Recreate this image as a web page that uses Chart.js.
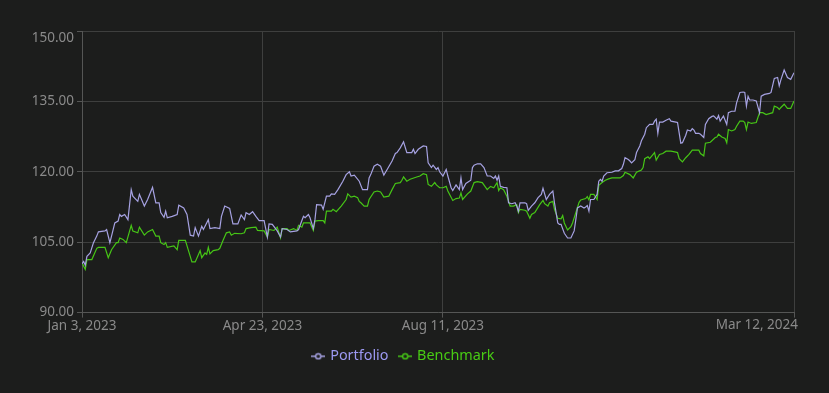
<!DOCTYPE html>
<html>
<head>
<meta charset="utf-8">
<script src="https://cdn.jsdelivr.net/npm/chart.js@4.4.1/dist/chart.umd.min.js"></script>
<style>
  html, body { margin: 0; padding: 0; background: #1c1d1c; }
  #wrap { width: 829px; height: 393px; position: relative; }
</style>
</head>
<body>
<div id="wrap"><canvas id="chart"></canvas></div>
<script>
// Start date of the series; x values are day offsets from it
const START_DATE = Date.UTC(2023, 0, 3);
const MONTHS = ['Jan', 'Feb', 'Mar', 'Apr', 'May', 'Jun', 'Jul', 'Aug', 'Sep', 'Oct', 'Nov', 'Dec'];

// Axis ticks
const xTickDays = [0, 110, 220, 434];
const yTickValues = [90, 105, 120, 135, 150];

// Portfolio series (day offset, value)
const portfolioDays = [
  0, 1, 2, 3, 5, 7, 9, 10, 14, 15,
  17, 18, 20, 22, 23, 24, 26, 28, 30, 31,
  34, 35, 38, 40, 43, 45, 47, 48, 50, 51,
  52, 55, 58, 59, 62, 64, 66, 68, 69, 71,
  73, 74, 77, 78, 81, 84, 85, 87, 90, 92,
  95, 97, 99, 100, 102, 104, 106, 108, 111, 113,
  114, 116, 119, 121, 122, 125, 127, 131, 132, 135,
  136, 138, 139, 141, 142, 143, 146, 147, 149, 151,
  152, 154, 156, 159, 161, 163, 164, 166, 169, 171,
  174, 175, 176, 178, 180, 182, 184, 186, 189, 191,
  192, 194, 196, 198, 201, 202, 203, 205, 208, 210,
  211, 213, 214, 216, 217, 218, 220, 222, 223, 225,
  226, 228, 230, 231, 232, 234, 237, 238, 239, 241,
  243, 245, 247, 249, 251, 252, 253, 254, 255, 257,
  259, 260, 262, 264, 265, 266, 267, 270, 271, 272,
  274, 276, 278, 280, 281, 282, 283, 285, 287, 288,
  290, 291, 292, 294, 296, 298, 300, 301, 302, 304,
  306, 307, 308, 309, 310, 312, 314, 315, 316, 317,
  318, 320, 323, 325, 327, 329, 330, 331, 333, 334,
  335, 337, 338, 340, 341, 343, 344, 346, 348, 349,
  350, 351, 352, 354, 356, 358, 359, 362, 363, 364,
  365, 366, 368, 369, 371, 372, 373, 374, 376, 377,
  379, 380, 382, 384, 385, 387, 388, 389, 391, 392,
  393, 394, 396, 398, 399, 401, 403, 404, 405, 406,
  407, 409, 411, 413, 414, 416, 419, 420, 422, 424,
  425, 426, 428, 430, 432, 434
];
const portfolioValues = [
  100.4, 100.9, 100.1, 102.0, 102.7, 104.9, 106.3, 107.2, 107.4, 107.7,
  104.9, 106.3, 109.1, 109.5, 110.9, 110.5, 110.9, 109.8, 116.2, 114.8,
  113.7, 115.2, 112.7, 114.1, 116.7, 113.4, 113.4, 111.3, 110.3, 111.6,
  110.2, 110.5, 110.9, 112.9, 112.3, 110.9, 106.5, 106.3, 108.1, 106.3,
  108.4, 107.7, 109.8, 107.9, 108.1, 107.9, 110.5, 112.7, 112.2, 108.9,
  108.9, 110.8, 109.8, 111.3, 110.9, 111.5, 110.5, 109.6, 109.6, 106.1,
  108.9, 108.8, 107.4, 106.1, 107.9, 107.7, 107.2, 107.4, 107.7, 110.5,
  110.2, 110.9, 110.2, 107.9, 109.8, 113.0, 112.9, 112.0, 114.8, 114.8,
  115.3, 115.2, 116.2, 118.0, 119.4, 120.0, 119.1, 119.3, 118.0, 116.2,
  116.2, 118.7, 119.4, 121.2, 121.6, 121.2, 119.3, 120.5, 122.3, 123.9,
  124.1, 125.1, 126.4, 124.1, 124.1, 124.8, 123.9, 124.8, 125.5, 125.4,
  121.9, 120.9, 121.4, 120.5, 120.9, 120.0, 119.1, 120.5, 119.1, 116.6,
  116.0, 117.2, 116.2, 118.7, 116.2, 117.5, 118.2, 120.9, 121.4, 121.7,
  121.7, 120.9, 119.1, 119.1, 118.6, 119.1, 118.2, 119.1, 116.9, 116.7,
  116.6, 113.4, 113.2, 113.4, 112.7, 111.6, 113.4, 113.4, 113.2, 111.8,
  112.7, 113.4, 114.5, 115.2, 116.5, 115.3, 114.1, 115.2, 115.9, 113.4,
  109.1, 108.8, 108.8, 106.9, 105.9, 105.9, 107.4, 109.8, 112.3, 112.7,
  112.3, 112.5, 112.8, 111.6, 114.1, 114.1, 115.2, 118.0, 118.4, 118.0,
  119.1, 119.8, 119.9, 120.2, 120.2, 120.7, 121.6, 123.0, 122.6, 122.3,
  121.9, 122.6, 124.1, 125.5, 126.6, 128.0, 129.4, 130.1, 130.1, 130.8,
  131.2, 128.2, 130.6, 130.6, 131.0, 131.3, 130.8, 130.6, 130.5, 128.3,
  126.1, 126.2, 127.8, 128.9, 128.7, 129.2, 128.9, 128.2, 128.2, 128.0,
  127.3, 130.1, 131.3, 131.8, 131.9, 131.2, 132.0, 130.8, 131.9, 131.0,
  130.1, 132.6, 132.9, 132.9, 134.7, 136.9, 137.0, 136.9, 134.0, 136.1,
  135.3, 135.3, 135.1, 132.6, 136.1, 136.5, 136.7, 136.9, 139.9, 140.1,
  138.3, 139.6, 141.7, 140.1, 139.7, 141.1
];

// Benchmark series (day offset, value)
const benchmarkDays = [
  0, 2, 3, 6, 9, 10, 14, 16, 18, 21,
  22, 23, 25, 27, 30, 31, 34, 35, 38, 40,
  43, 45, 47, 48, 50, 51, 52, 56, 58, 59,
  63, 65, 67, 69, 71, 72, 73, 75, 76, 77,
  78, 80, 83, 84, 86, 88, 90, 91, 93, 97,
  99, 100, 103, 106, 107, 111, 113, 114, 117, 119,
  121, 122, 125, 126, 129, 131, 132, 134, 135, 139,
  141, 142, 144, 147, 148, 149, 152, 153, 155, 158,
  161, 162, 164, 166, 168, 169, 170, 172, 174, 175,
  178, 180, 182, 184, 187, 189, 191, 194, 195, 196,
  198, 200, 204, 206, 208, 210, 211, 213, 215, 216,
  218, 220, 222, 223, 226, 228, 230, 231, 232, 235,
  237, 239, 241, 244, 247, 249, 251, 253, 254, 255,
  257, 259, 261, 263, 265, 266, 267, 270, 271, 273,
  274, 276, 279, 281, 282, 284, 285, 287, 288, 290,
  292, 293, 294, 296, 298, 299, 301, 303, 304, 307,
  308, 309, 310, 312, 314, 315, 317, 319, 321, 323,
  325, 328, 330, 331, 334, 336, 338, 341, 342, 343,
  345, 346, 349, 350, 352, 354, 356, 359, 362, 363,
  364, 366, 368, 370, 372, 376, 377, 379, 380, 383,
  386, 387, 388, 390, 392, 393, 394, 396, 398, 399,
  401, 403, 404, 405, 406, 408, 411, 413, 415, 417,
  419, 421, 422, 424, 425, 426, 428, 430, 432, 434
];
const benchmarkValues = [
  100.6, 99.2, 101.3, 101.3, 103.7, 103.9, 103.9, 101.7, 103.4, 104.9,
  104.9, 105.9, 105.6, 104.9, 108.6, 107.4, 107.0, 108.2, 106.5, 107.2,
  107.7, 106.3, 106.3, 104.9, 104.5, 104.9, 103.9, 104.2, 103.4, 105.4,
  105.4, 103.1, 100.8, 100.8, 102.4, 103.2, 101.7, 102.7, 102.4, 103.9,
  102.5, 103.2, 103.4, 103.7, 105.4, 107.0, 107.2, 106.5, 106.9, 106.8,
  107.0, 107.9, 108.1, 108.2, 107.5, 107.4, 106.1, 107.7, 107.5, 108.2,
  105.9, 107.9, 107.9, 107.5, 107.9, 107.5, 108.6, 108.2, 109.1, 109.1,
  107.5, 109.5, 109.6, 109.6, 109.1, 111.6, 111.6, 112.0, 111.5, 112.7,
  114.1, 115.3, 114.6, 114.8, 114.5, 113.7, 113.4, 112.7, 112.7, 114.1,
  115.7, 115.9, 115.7, 114.6, 114.8, 116.2, 117.5, 117.7, 118.2, 118.9,
  118.0, 118.4, 118.9, 119.1, 119.6, 119.4, 117.3, 116.9, 117.7, 117.2,
  116.6, 116.6, 116.9, 115.9, 113.9, 114.3, 114.4, 115.5, 114.1, 115.3,
  115.9, 117.7, 117.9, 117.7, 116.2, 116.9, 116.6, 117.7, 116.0, 116.6,
  116.2, 114.8, 112.7, 112.7, 113.0, 111.3, 112.0, 111.8, 111.6, 110.1,
  110.9, 111.3, 113.0, 113.9, 113.2, 112.7, 113.4, 113.7, 112.0, 110.1,
  110.0, 110.7, 109.1, 107.6, 108.3, 109.1, 111.3, 113.5, 114.0, 114.3,
  114.7, 114.0, 115.2, 115.2, 114.1, 117.1, 117.7, 118.2, 118.5, 118.7,
  118.7, 118.7, 119.2, 119.9, 119.4, 118.7, 119.9, 120.4, 120.9, 122.8,
  123.2, 122.8, 124.1, 122.5, 123.7, 123.9, 124.4, 124.4, 124.2, 124.1,
  122.8, 122.1, 123.0, 123.7, 124.6, 124.6, 123.9, 123.4, 126.1, 126.3,
  127.3, 127.4, 128.0, 127.4, 127.1, 126.2, 129.0, 128.7, 129.0, 129.7,
  130.8, 130.8, 130.5, 129.0, 130.6, 130.3, 130.5, 132.6, 132.6, 132.2,
  132.4, 132.6, 134.0, 133.7, 133.3, 133.7, 134.4, 133.5, 133.5, 135.1
];

// Colours
const BG = '#1c1d1c';
const PORTFOLIO_COLOR = '#a6a2e2';
const PORTFOLIO_TEXT = '#9c99f2';
const BENCHMARK_COLOR = '#46c516';
const BENCHMARK_TEXT = '#48cc14';
const GRID_COLOR = '#3e3f3e';
const AXIS_COLOR = '#555655';
const TICK_TEXT = '#8a8a8a';
const FONT_FAMILY = '"Noto Sans", "Open Sans", sans-serif';
const TICK_FONT_SIZE = 13.5;

/**
 * Format a day offset as "Mon D, YYYY"
 */
function formatDay(offset) {
  const d = new Date(START_DATE + offset * 86400000);
  return MONTHS[d.getUTCMonth()] + ' ' + d.getUTCDate() + ', ' + d.getUTCFullYear();
}

/**
 * Legend marker: short line with a hollow dot
 */
function legendMarker(color) {
  const c = document.createElement('canvas');
  c.width = 14;
  c.height = 8;
  const ctx = c.getContext('2d');
  ctx.strokeStyle = color;
  ctx.lineWidth = 1.5;
  ctx.beginPath();
  ctx.moveTo(0, 4);
  ctx.lineTo(14, 4);
  ctx.stroke();
  ctx.fillStyle = BG;
  ctx.beginPath();
  ctx.arc(7, 4, 2.6, 0, Math.PI * 2);
  ctx.fill();
  ctx.stroke();
  return c;
}

const toPoints = (days, values) => days.map((d, i) => ({ x: d, y: values[i] }));

const lastXTick = xTickDays[xTickDays.length - 1];
const topYTick = yTickValues[yTickValues.length - 1];

// Edge labels: last date label sits flush right, top value label sits below the top line
const edgeLabels = {
  id: 'edgeLabels',
  afterDraw(chart) {
    const { ctx, chartArea, scales } = chart;
    ctx.save();
    ctx.font = TICK_FONT_SIZE + 'px ' + FONT_FAMILY;
    ctx.fillStyle = TICK_TEXT;
    ctx.textBaseline = 'middle';

    ctx.textAlign = 'right';
    ctx.fillText(formatDay(lastXTick), scales.x.getPixelForValue(lastXTick) + 4, chartArea.bottom + 13);

    ctx.fillText(topYTick.toFixed(2), chartArea.left - 8, chartArea.top + 7.5);
    ctx.restore();
  }
};

const markers = [legendMarker(PORTFOLIO_COLOR), legendMarker(BENCHMARK_COLOR)];
const textColors = [PORTFOLIO_TEXT, BENCHMARK_TEXT];

new Chart(document.getElementById('chart'), {
  type: 'line',
  data: {
    datasets: [
      {
        label: 'Portfolio',
        data: toPoints(portfolioDays, portfolioValues),
        borderColor: PORTFOLIO_COLOR,
        backgroundColor: PORTFOLIO_COLOR,
        borderWidth: 1.2,
        pointRadius: 0,
        tension: 0
      },
      {
        label: 'Benchmark',
        data: toPoints(benchmarkDays, benchmarkValues),
        borderColor: BENCHMARK_COLOR,
        backgroundColor: BENCHMARK_COLOR,
        borderWidth: 1.2,
        pointRadius: 0,
        tension: 0
      }
    ]
  },
  options: {
    responsive: true,
    maintainAspectRatio: false,
    animation: false,
    layout: {
      padding: { top: 31, right: 21, bottom: 19.5, left: 0 }
    },
    scales: {
      x: {
        type: 'linear',
        min: 0,
        max: lastXTick,
        afterBuildTicks(scale) {
          scale.ticks = xTickDays.map(v => ({ value: v }));
        },
        afterFit(scale) {
          scale.height = 24.5;
        },
        grid: { color: GRID_COLOR, tickLength: 5, tickColor: AXIS_COLOR },
        border: { color: AXIS_COLOR },
        ticks: {
          autoSkip: false,
          maxRotation: 0,
          padding: 0,
          color: TICK_TEXT,
          font: { family: FONT_FAMILY, size: TICK_FONT_SIZE },
          callback: v => (v === lastXTick ? '' : formatDay(v))
        }
      },
      y: {
        min: 90,
        max: 150,
        afterBuildTicks(scale) {
          scale.ticks = yTickValues.map(v => ({ value: v }));
        },
        afterFit(scale) {
          scale.width = 82;
        },
        grid: { color: GRID_COLOR, tickLength: 5, tickColor: AXIS_COLOR },
        border: { color: AXIS_COLOR },
        ticks: {
          padding: 3,
          color: TICK_TEXT,
          font: { family: FONT_FAMILY, size: TICK_FONT_SIZE },
          callback: v => (v === topYTick ? '' : v.toFixed(2))
        }
      },
      // empty right-hand gutter so the plot ends before the legend's centre line
      gutter: {
        type: 'linear',
        position: 'right',
        afterFit(scale) {
          scale.width = 14;
        },
        grid: { display: false, drawTicks: false },
        border: { display: false },
        ticks: { display: false }
      }
    },
    plugins: {
      tooltip: { enabled: false },
      legend: {
        position: 'bottom',
        labels: {
          usePointStyle: true,
          pointStyleWidth: 9.4,
          padding: 12,
          font: { family: FONT_FAMILY, size: 14.4 },
          generateLabels(chart) {
            return chart.data.datasets.map((ds, i) => ({
              text: ds.label,
              fillStyle: BG,
              strokeStyle: ds.borderColor,
              lineWidth: 0,
              pointStyle: markers[i],
              fontColor: textColors[i],
              hidden: false,
              datasetIndex: i
            }));
          }
        }
      }
    }
  },
  plugins: [edgeLabels]
});
</script>
</body>
</html>
